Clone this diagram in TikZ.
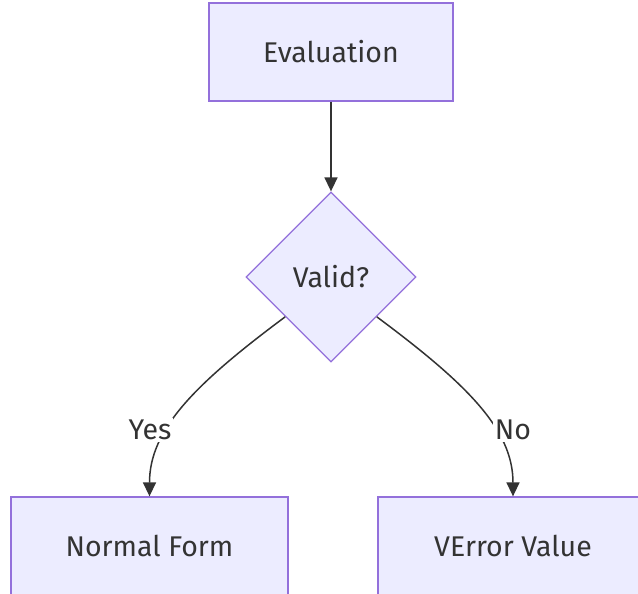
\documentclass[tikz,border=0pt]{standalone}
\usepackage{fontspec}
\setmainfont{Fira Sans}
\usetikzlibrary{shapes.geometric,arrows.meta}
\definecolor{nodefill}{HTML}{ECECFF}
\definecolor{nodeline}{HTML}{9370DB}
\definecolor{ink}{HTML}{333333}
\tikzset{
  labelfont/.style={font=\fontsize{28.5}{32}\selectfont},
  procbox/.style={draw=nodeline, fill=nodefill, line width=1.3pt, rectangle,
    minimum width=#1, minimum height=98pt, inner sep=0pt, text=ink, labelfont},
  decision/.style={draw=nodeline, fill=nodefill, line width=1.3pt, diamond,
    minimum width=170pt, minimum height=170pt, inner sep=0pt, text=ink, labelfont},
  flow/.style={draw=ink, line width=1.5pt,
    -{Triangle[length=14pt,width=13pt]}},
  edgetag/.style={fill=white, text=ink, inner sep=2pt, labelfont}
}
\begin{document}
\begin{tikzpicture}[x=1pt,y=-1pt]
  \clip (0,0) rectangle (638,594);
  \fill[white] (0,0) rectangle (638,594);

  \node[procbox=244pt] (eval) at (331,52) {Evaluation};
  \node[decision] (valid) at (331,277) {Valid?};
  \node[procbox=277pt] (normal) at (149.5,546) {Normal Form};
  \node[procbox=270pt] (verror) at (513,546) {VError Value};

  \draw[flow] (eval.south) -- (valid.north);
  \draw[flow] (valid.221) .. controls +(-90,67) and +(0,-67) .. (normal.north);
  \draw[flow] (valid.319) .. controls +(90,67) and +(0,-67) .. (verror.north);

  \node[edgetag] (yes) at (150,430) {Yes};
  \node[edgetag] (no) at (513,430) {No};
\end{tikzpicture}
\end{document}
